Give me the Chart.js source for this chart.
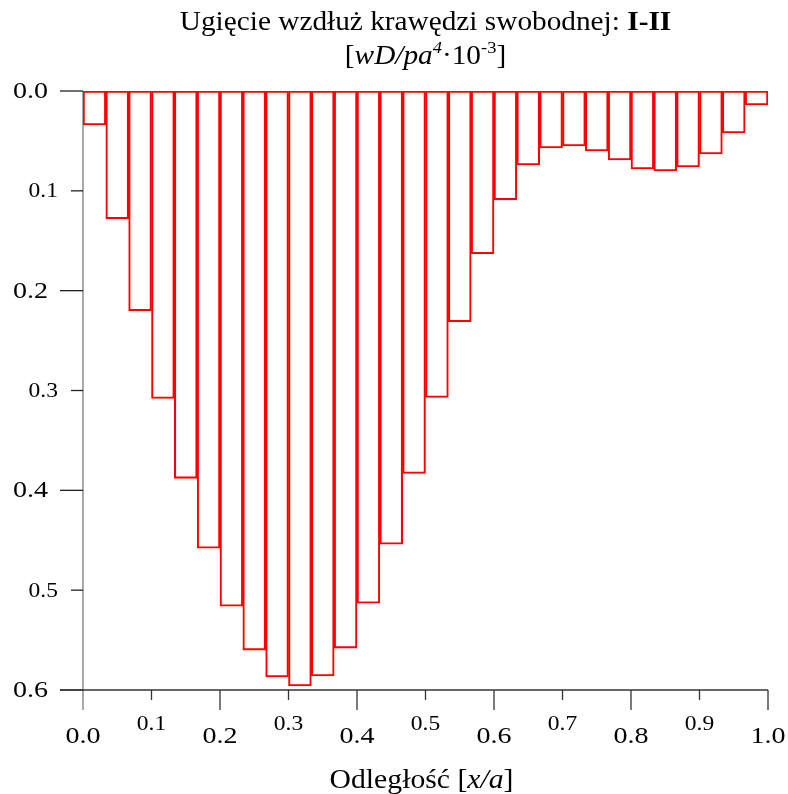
<!DOCTYPE html>
<html>
<head>
<meta charset="utf-8">
<script src="https://cdn.jsdelivr.net/npm/chart.js@4"></script>
<style>
  html, body { margin: 0; padding: 0; background: #fff; }
  #wrap { width: 788px; height: 794px; position: relative; }
</style>
</head>
<body>
<div id="wrap"><canvas id="chart"></canvas></div>
<script>
// srodki przedzialow wzdluz krawedzi (x/a)
const categories = [0.017, 0.050, 0.083, 0.117, 0.150, 0.183, 0.217, 0.250, 0.283, 0.317,
  0.350, 0.383, 0.417, 0.450, 0.483, 0.517, 0.550, 0.583, 0.617, 0.650,
  0.683, 0.717, 0.750, 0.783, 0.817, 0.850, 0.883, 0.917, 0.950, 0.983];

// ugiecie wD/pa^4 * 10^-3
const deflection = [0.034, 0.128, 0.220, 0.308, 0.388, 0.458, 0.516, 0.560, 0.587, 0.596,
  0.586, 0.558, 0.513, 0.454, 0.383, 0.307, 0.231, 0.163, 0.109, 0.074,
  0.057, 0.055, 0.060, 0.069, 0.078, 0.080, 0.076, 0.063, 0.042, 0.014];

const xTicks = [0.0, 0.1, 0.2, 0.3, 0.4, 0.5, 0.6, 0.7, 0.8, 0.9, 1.0];
const xTickLabels = ["0.0", "0.1", "0.2", "0.3", "0.4", "0.5", "0.6", "0.7", "0.8", "0.9", "1.0"];
const yTicks = [0.0, 0.1, 0.2, 0.3, 0.4, 0.5, 0.6];
const yTickLabels = ["0.0", "0.1", "0.2", "0.3", "0.4", "0.5", "0.6"];

const FONT = '"Liberation Serif", "Times New Roman", serif';

function font(size, style) {
  return (style || "") + " " + size + "px " + FONT;
}

// rysuje ciag fragmentow tekstu (kursywa, pogrubienie, indeksy gorne);
// sx - rozciagniecie w poziomie, tekst w oryginale jest troche szerszy
function drawRuns(ctx, runs, x, y, align, sx) {
  let total = 0;
  runs.forEach(r => {
    ctx.font = r.f;
    r.w = ctx.measureText(r.t).width;
    total += r.w;
  });
  const start = align === "center" ? -total / 2 : align === "right" ? -total : 0;
  ctx.save();
  ctx.translate(x, y);
  ctx.scale(sx || 1, 1);
  ctx.textAlign = "left";
  let cx = start;
  runs.forEach(r => {
    ctx.font = r.f;
    ctx.fillText(r.t, cx, r.dy || 0);
    cx += r.w;
  });
  ctx.restore();
}

function line(ctx, x1, y1, x2, y2) {
  ctx.beginPath();
  ctx.moveTo(x1, y1);
  ctx.lineTo(x2, y2);
  ctx.stroke();
}

const axesPlugin = {
  id: "axes",
  beforeDatasetsDraw(chart) {
    const ctx = chart.ctx;
    const xs = chart.scales.x;
    const ys = chart.scales.y;
    const left = xs.getPixelForDecimal(0);
    const right = xs.getPixelForDecimal(1);
    const bottom = ys.getPixelForValue(0.6);
    ctx.save();
    ctx.lineWidth = 1.3;

    // os Y (szara) z przedluzeniem w dol
    ctx.strokeStyle = "#7a7a7a";
    line(ctx, left, ys.getPixelForValue(0), left, bottom + 20);

    // znaczniki osi Y
    ctx.strokeStyle = "#222";
    yTicks.forEach((v, i) => {
      const y = ys.getPixelForValue(v);
      const len = i % 2 === 0 ? 23 : 12;
      line(ctx, left - len, y, left, y);
    });

    // os X
    ctx.strokeStyle = "#333";
    line(ctx, left - 23, bottom, right, bottom);
    xTicks.forEach((v, i) => {
      if (i === 0) return;
      const x = xs.getPixelForDecimal(v);
      const len = i % 2 === 0 ? 20 : 10;
      line(ctx, x, bottom, x, bottom + len);
    });
    ctx.restore();
  },
  afterDraw(chart) {
    const ctx = chart.ctx;
    const xs = chart.scales.x;
    const ys = chart.scales.y;
    const left = xs.getPixelForDecimal(0);
    const mid = xs.getPixelForDecimal(0.5);
    ctx.save();
    ctx.fillStyle = "#000";

    // etykiety osi Y: parzyste wieksze i dalej od osi
    ctx.textBaseline = "middle";
    yTicks.forEach((v, i) => {
      const major = i % 2 === 0;
      const y = ys.getPixelForValue(v);
      if (major) {
        drawRuns(ctx, [{ t: yTickLabels[i], f: font(23) }], left - 35, y + 1, "right", 1.22);
      } else {
        drawRuns(ctx, [{ t: yTickLabels[i], f: font(21) }], left - 25, y + 1, "right", 1.12);
      }
    });

    // etykiety osi X: naprzemiennie w dwoch rzedach
    ctx.textBaseline = "alphabetic";
    xTicks.forEach((v, i) => {
      const x = xs.getPixelForDecimal(v);
      if (i % 2 === 0) {
        drawRuns(ctx, [{ t: xTickLabels[i], f: font(23) }], x, 743, "center", 1.22);
      } else {
        drawRuns(ctx, [{ t: xTickLabels[i], f: font(21) }], x, 730, "center", 1.12);
      }
    });

    // tytul
    drawRuns(ctx, [
      { t: "Ugięcie wzdłuż krawędzi swobodnej: ", f: font(27) },
      { t: "I-II", f: font(27, "bold") }
    ], mid, 30, "center", 1.085);
    drawRuns(ctx, [
      { t: "[", f: font(27) },
      { t: "wD/pa", f: font(27, "italic") },
      { t: "4", f: font(17, "italic"), dy: -11 },
      { t: "·10", f: font(27) },
      { t: "-3", f: font(17), dy: -11 },
      { t: "]", f: font(27) }
    ], mid, 64, "center", 1.085);

    // opis osi X
    drawRuns(ctx, [
      { t: "Odległość [", f: font(27) },
      { t: "x/a", f: font(27, "italic") },
      { t: "]", f: font(27) }
    ], mid - 4, 788, "center", 1.1);
    ctx.restore();
  }
};

new Chart(document.getElementById("chart"), {
  type: "bar",
  data: {
    labels: categories,
    datasets: [{
      data: deflection,
      backgroundColor: "rgba(0,0,0,0)",
      borderColor: "#ff0000",
      borderWidth: 1.4,
      borderSkipped: false,
      barPercentage: 1,
      categoryPercentage: 1
    }]
  },
  options: {
    responsive: true,
    maintainAspectRatio: false,
    animation: false,
    layout: { padding: { left: 83, right: 20, top: 91, bottom: 104 } },
    plugins: {
      legend: { display: false },
      title: { display: false },
      tooltip: { enabled: false }
    },
    scales: {
      x: { display: false, offset: true },
      y: { display: false, reverse: true, min: 0, max: 0.6 }
    }
  },
  plugins: [axesPlugin]
});
</script>
</body>
</html>
